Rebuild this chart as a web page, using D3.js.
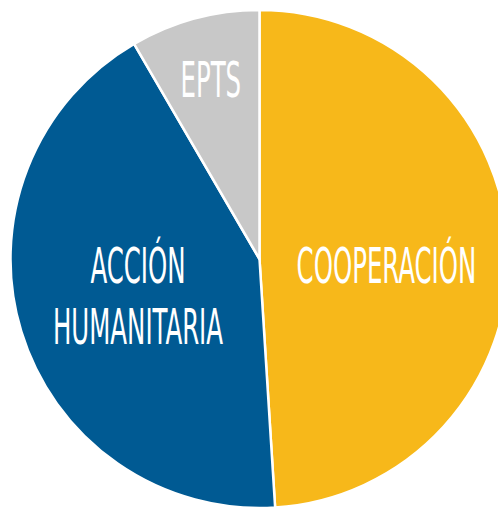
<!DOCTYPE html>
<html>
<head>
<meta charset="utf-8">
<script src="https://cdn.jsdelivr.net/npm/d3@7/dist/d3.min.js"></script>
<style>
  html, body { margin: 0; padding: 0; background: #fff; }
  svg { display: block; }
  .slice-label {
    font-family: "DejaVu Sans Condensed", "DejaVu Sans", sans-serif;
    font-stretch: condensed;
    fill: #fff;
  }
</style>
</head>
<body>
<div id="chart"></div>
<script>
// Shares (percent of total)
let categories = ['COOPERACIÓN', 'ACCIÓN HUMANITARIA', 'EPTS'];
let shares = [49.0, 42.6, 8.4];
let labelLines = [['COOPERACIÓN'], ['ACCIÓN', 'HUMANITARIA'], ['EPTS']];
let colors = ['#F7B81A', '#005A93', '#C8C8C8'];

let width = 498;
let height = 507;
let radius = 249;
let cx = 259.5;
let cy = 259;

let svg = d3.select('#chart')
  .append('svg')
  .attr('width', width)
  .attr('height', height);

let g = svg.append('g')
  .attr('transform', `translate(${cx},${cy})`);

let pie = d3.pie()
  .sort(null)
  .value(function(d) { return d.value; });

let data = categories.map(function(c, i) {
  return { name: c, value: shares[i], lines: labelLines[i], color: colors[i] };
});

let arc = d3.arc()
  .innerRadius(0)
  .outerRadius(radius);

let arcs = pie(data);

g.selectAll('path.slice')
  .data(arcs)
  .enter()
  .append('path')
  .attr('class', 'slice')
  .attr('d', arc)
  .attr('fill', function(d) { return d.data.color; })
  .attr('stroke', '#fff')
  .attr('stroke-width', 2.5)
  .attr('stroke-linejoin', 'round');

// big slices get their label nearer the middle, thin ones further out
function labelRadius(d) {
  return (d.endAngle - d.startAngle) < 0.8 ? radius * 0.75 : radius * 0.51;
}
// small hand nudges, the original labels were placed by eye
let labelNudge = { 'COOPERACIÓN': 10 };

let capHeight = 36;
let lineGap = 61;
let xScale = 0.555;

let labels = g.selectAll('g.label')
  .data(arcs)
  .enter()
  .append('g')
  .attr('class', 'label')
  .attr('transform', function(d) {
    let mid = (d.startAngle + d.endAngle) / 2;
    let r = labelRadius(d);
    let x = r * Math.sin(mid);
    let y = -r * Math.cos(mid) + (labelNudge[d.data.name] || 0);
    return `translate(${x},${y})`;
  });

labels.each(function(d) {
  let lines = d.data.lines;
  let n = lines.length;
  let top = -((n - 1) * lineGap) / 2 + capHeight / 2;
  let txt = d3.select(this).append('g')
    .attr('transform', `scale(${xScale},1)`);
  lines.forEach(function(line, i) {
    txt.append('text')
      .attr('class', 'slice-label')
      .attr('text-anchor', 'middle')
      .attr('x', 0)
      .attr('y', top + i * lineGap)
      .attr('font-size', 49)
      .text(line);
  });
});
</script>
</body>
</html>
